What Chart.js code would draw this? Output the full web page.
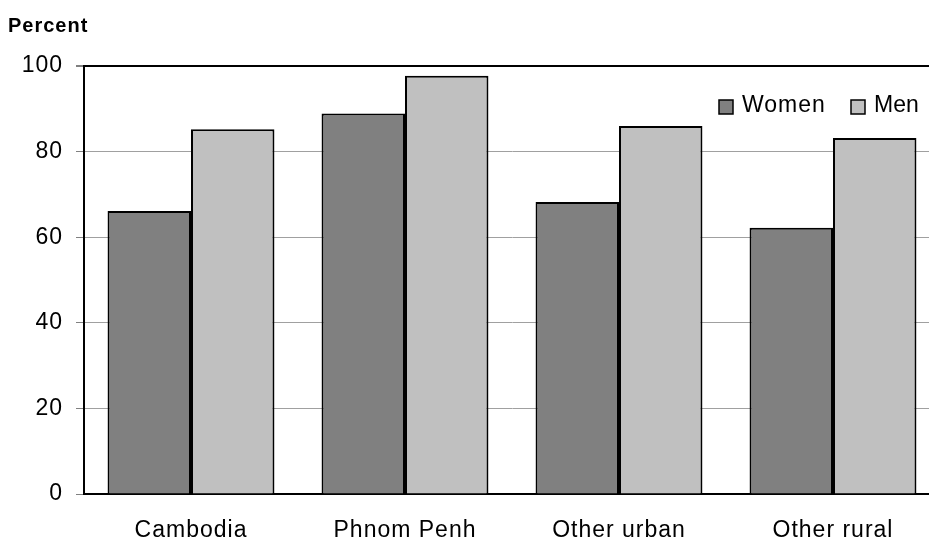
<!DOCTYPE html>
<html>
<head>
<meta charset="utf-8">
<script src="https://cdn.jsdelivr.net/npm/chart.js@4"></script>
<style>
  html, body { margin: 0; padding: 0; background: #fff; overflow: hidden; }
  #wrap { position: relative; width: 940px; height: 541px; }
</style>
</head>
<body>
<div id="wrap"><canvas id="c"></canvas></div>
<script>
// Women / men by residence, percent
const categories = ['Cambodia', 'Phnom Penh', 'Other urban', 'Other rural'];
const women = [66.1, 88.9, 68.2, 62.2];
const men = [85.2, 97.7, 86.0, 83.2];
const yTicks = [0, 20, 40, 60, 80, 100];

const FONT = '"Liberation Sans", Arial, sans-serif';

// the reference text is set a little loose, like the old Excel export
const spacing = {
  id: 'spacing',
  beforeDraw(chart) { chart.ctx.letterSpacing = '1px'; },
};

// draws the "Percent" caption and the in-plot legend
const extras = {
  id: 'extras',
  afterDraw(chart) {
    const ctx = chart.ctx;
    ctx.save();
    ctx.letterSpacing = '1px';
    ctx.fillStyle = '#000';
    ctx.font = `bold 20px ${FONT}`;
    ctx.textBaseline = 'middle';
    ctx.textAlign = 'left';
    ctx.fillText('Percent', 8, 26);

    ctx.font = `23px ${FONT}`;
    const items = [
      { label: 'Women', color: '#808080', x: 719, ls: '1px' },
      { label: 'Men', color: '#c0c0c0', x: 851, ls: '0px' },
    ];
    for (const it of items) {
      ctx.fillStyle = it.color;
      ctx.fillRect(it.x, 100, 14, 14);
      ctx.strokeStyle = '#000';
      ctx.lineWidth = 1.5;
      ctx.strokeRect(it.x, 100, 14, 14);
      ctx.fillStyle = '#000';
      ctx.letterSpacing = it.ls;
      ctx.fillText(it.label, it.x + 23, 106);
    }
    ctx.restore();
  },
};

new Chart(document.getElementById('c'), {
  type: 'bar',
  data: {
    labels: categories,
    datasets: [
      { label: 'Women', data: women, backgroundColor: '#808080', borderColor: '#000', borderWidth: 2 },
      { label: 'Men', data: men, backgroundColor: '#c0c0c0', borderColor: '#000', borderWidth: 2 },
    ],
  },
  options: {
    responsive: true,
    maintainAspectRatio: false,
    animation: false,
    layout: { padding: { top: 66, left: 0, right: 0, bottom: 0 } },
    datasets: { bar: { categoryPercentage: 0.78, barPercentage: 1.0 } },
    plugins: { legend: { display: false }, tooltip: { enabled: false } },
    scales: {
      x: {
        afterFit: (s) => { s.height = 47; },
        grid: { display: false, drawTicks: false },
        border: { color: '#000', width: 2 },
        ticks: { color: '#000', font: { family: FONT, size: 23 }, padding: 23 },
      },
      y: {
        min: 0,
        max: 100,
        afterFit: (s) => { s.width = 84; },
        afterBuildTicks: (s) => { s.ticks = yTicks.map((v) => ({ value: v })); },
        grid: {
          color: (c) => (c.tick && c.tick.value === 100 ? '#000' : '#a0a0a0'),
          lineWidth: (c) => (c.tick && c.tick.value === 100 ? 2 : 1),
          tickColor: '#808080',
          tickLength: 8,
        },
        border: { color: '#000', width: 2 },
        ticks: { color: '#000', font: { family: FONT, size: 23 }, padding: 13 },
      },
    },
  },
  plugins: [spacing, extras],
});
</script>
</body>
</html>
